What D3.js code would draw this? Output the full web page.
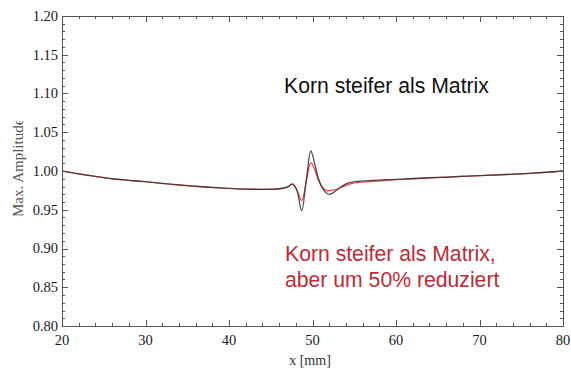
<!DOCTYPE html>
<html>
<head>
<meta charset="utf-8">
<script src="https://cdn.jsdelivr.net/npm/d3@7"></script>
<style>
  html, body { margin: 0; padding: 0; background: #fff; }
  svg { display: block; }
</style>
</head>
<body>
<svg id="chart" width="571" height="373"></svg>
<script>
// Position along the specimen (mm)
const xs = [20, 22, 24, 26, 28, 30, 32, 34, 36, 38, 40, 42, 44, 45, 46, 47, 47.6, 48.1, 48.7, 49.25,
            49.8, 50.3, 50.7, 51.2, 51.7, 52.1, 52.9, 54, 55, 56, 58, 60, 62, 64, 66, 68, 70, 72, 74, 76, 78, 80];

// Maximum amplitude, grain stiffer than matrix
const stiff = [1.0000, 0.9963, 0.9930, 0.9900, 0.9880, 0.9862, 0.9840, 0.9820, 0.9803, 0.9788, 0.9775, 0.9766, 0.9764, 0.9765, 0.9771, 0.9794, 0.9834, 0.9760, 0.9488, 0.9880,
               1.0258, 1.0080, 0.9906, 0.9775, 0.9712, 0.9700, 0.9755, 0.9835, 0.9862, 0.9872, 0.9882, 0.9893, 0.9903, 0.9913, 0.9922, 0.9932, 0.9941, 0.9950, 0.9960, 0.9970, 0.9984, 1.0000];

// Maximum amplitude, grain stiffer than matrix but contrast reduced by 50%
const reduced = [1.0000, 0.9962, 0.9929, 0.9899, 0.9879, 0.9861, 0.9839, 0.9819, 0.9802, 0.9787, 0.9774, 0.9765, 0.9763, 0.9764, 0.9770, 0.9792, 0.9828, 0.9762, 0.9617, 0.9860,
                 1.0107, 1.0010, 0.9880, 0.9790, 0.9746, 0.9748, 0.9764, 0.9815, 0.9845, 0.9858, 0.9872, 0.9887, 0.9899, 0.9910, 0.9919, 0.9929, 0.9939, 0.9948, 0.9958, 0.9969, 0.9983, 1.0000];

const xMajor = [20, 30, 40, 50, 60, 70, 80];
const yMajor = [0.80, 0.85, 0.90, 0.95, 1.00, 1.05, 1.10, 1.15, 1.20];

const labelTop = "Korn steifer als Matrix";
const labelBottom = ["Korn steifer als Matrix,", "aber um 50% reduziert"];

const svg = d3.select("#chart");
const m = { left: 62, right: 563, top: 16, bottom: 326 };

const x = d3.scaleLinear().domain([20, 80]).range([m.left, m.right]);
const y = d3.scaleLinear().domain([0.80, 1.20]).range([m.bottom, m.top]);

const frameColor = "#555";
const serif = "'Liberation Serif', 'DejaVu Serif', serif";

// curves
const line = d3.line()
  .x((d, i) => x(xs[i]))
  .y(d => y(d))
  .curve(d3.curveCatmullRom.alpha(0.5));

svg.append("path")
  .attr("d", line(reduced))
  .attr("fill", "none")
  .attr("stroke", "#ee3b3f")
  .attr("stroke-width", 1.2);

svg.append("path")
  .attr("d", line(stiff))
  .attr("fill", "none")
  .attr("stroke", "#333")
  .attr("stroke-opacity", 0.85)
  .attr("stroke-width", 1.3);

// inward ticks on all four sides, minor ticks in between
const xMinor = d3.range(20, 80.001, 2);
const yMinor = d3.range(0, 41).map(i => 0.80 + i * 0.01);
const ticks = svg.append("g").attr("stroke", frameColor).attr("stroke-width", 1);

xMinor.forEach(v => {
  const major = xMajor.some(t => Math.abs(t - v) < 1e-6);
  const len = major ? 6 : 3;
  const px = Math.round(x(v)) + 0.5;
  ticks.append("line").attr("x1", px).attr("x2", px).attr("y1", m.bottom).attr("y2", m.bottom - len);
  ticks.append("line").attr("x1", px).attr("x2", px).attr("y1", m.top).attr("y2", m.top + len);
});
yMinor.forEach(v => {
  const major = yMajor.some(t => Math.abs(t - v) < 1e-6);
  const len = major ? 6 : 3;
  const py = Math.round(y(v)) + 0.5;
  ticks.append("line").attr("x1", m.left).attr("x2", m.left + len).attr("y1", py).attr("y2", py);
  ticks.append("line").attr("x1", m.right).attr("x2", m.right - len).attr("y1", py).attr("y2", py);
});

// frame
svg.append("rect")
  .attr("x", m.left + 0.5).attr("y", m.top + 0.5)
  .attr("width", m.right - m.left).attr("height", m.bottom - m.top)
  .attr("fill", "none").attr("stroke", frameColor).attr("stroke-width", 1);

// tick labels
svg.append("g").selectAll("text").data(xMajor).join("text")
  .attr("x", d => x(d)).attr("y", 345)
  .attr("text-anchor", "middle")
  .attr("font-family", serif).attr("font-size", 14.5).attr("fill", "#1a1a1a")
  .text(d => d);

svg.append("g").selectAll("text").data(yMajor).join("text")
  .attr("x", 58).attr("y", d => y(d)).attr("dy", "0.33em")
  .attr("text-anchor", "end")
  .attr("font-family", serif).attr("font-size", 14.5).attr("fill", "#1a1a1a")
  .text(d => d.toFixed(2));

// axis titles
svg.append("text")
  .attr("x", 310).attr("y", 365)
  .attr("text-anchor", "middle")
  .attr("font-family", serif).attr("font-size", 14).attr("fill", "#333")
  .text("x [mm]");

svg.append("clipPath").attr("id", "ylab-clip")
  .append("rect").attr("x", 0).attr("y", 121).attr("width", 40).attr("height", 120);

svg.append("g").attr("clip-path", "url(#ylab-clip)")
  .append("text")
  .attr("transform", "translate(23,217) rotate(-90)")
  .attr("text-anchor", "start")
  .attr("font-family", serif).attr("font-size", 15).attr("fill", "#555")
  .text("Max. Amplitude");

// annotations
const sans = "'Liberation Sans', Arial, sans-serif";
svg.append("text")
  .attr("x", 284).attr("y", 93)
  .attr("font-family", sans).attr("font-size", 21.2).attr("fill", "#111")
  .text(labelTop);

svg.append("g").selectAll("text").data(labelBottom).join("text")
  .attr("x", 285).attr("y", (d, i) => 261 + i * 25.7)
  .attr("font-family", sans).attr("font-size", 21.2).attr("fill", "#be2a35")
  .text(d => d);
</script>
</body>
</html>
